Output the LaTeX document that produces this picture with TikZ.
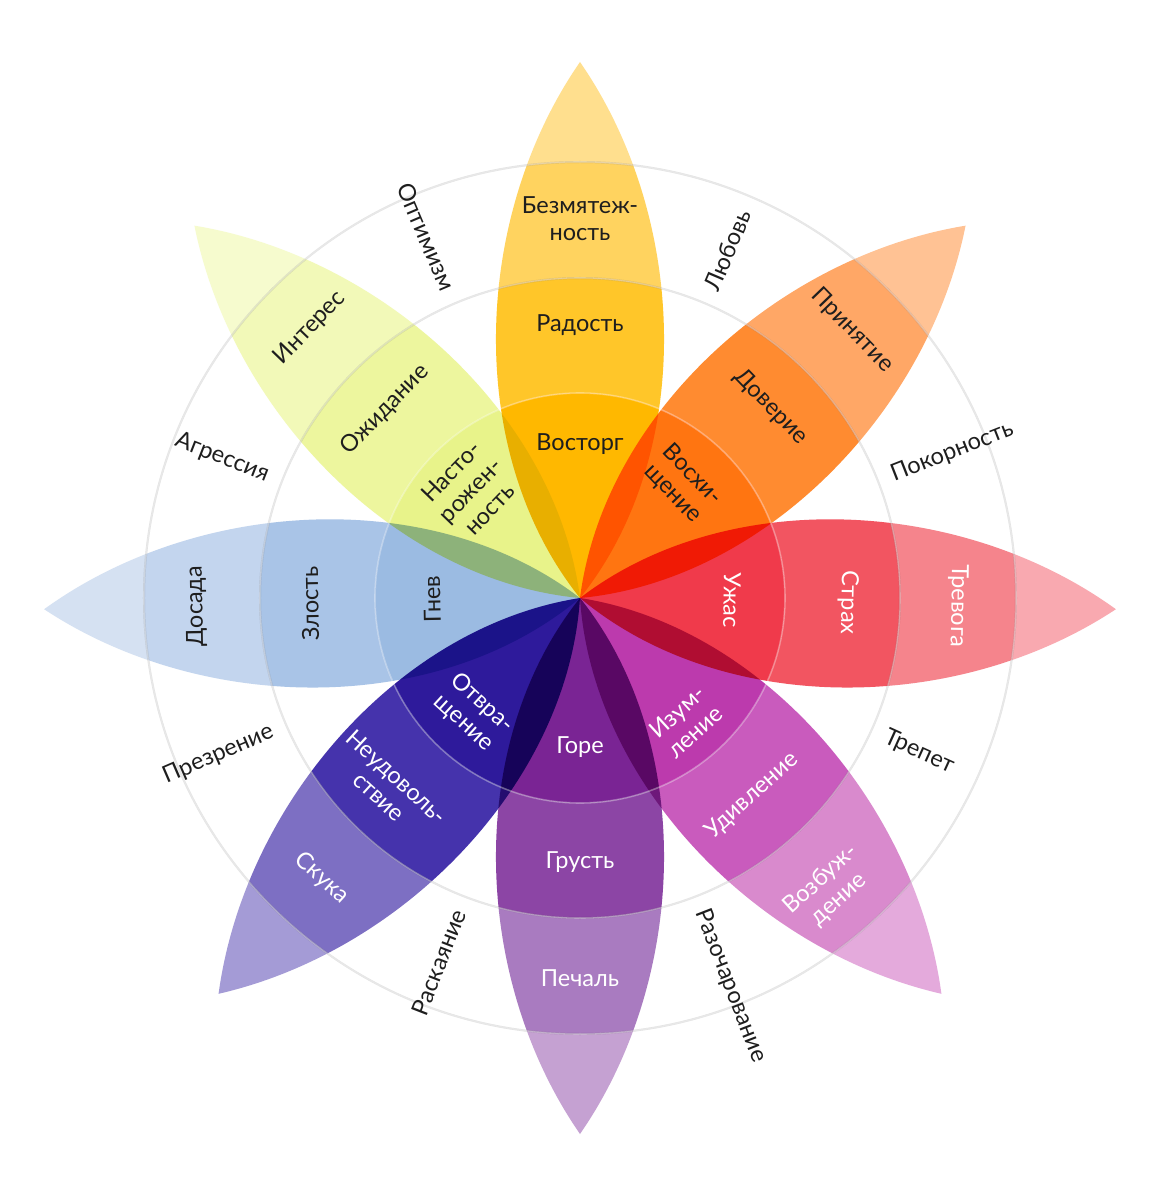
\documentclass[tikz,border=0pt]{standalone}
\usepackage{fontspec}
\setmainfont{Lato}
\definecolor{colYa}{HTML}{FFB800}\definecolor{colYb}{HTML}{FFC629}\definecolor{colYc}{HTML}{FFD35F}\definecolor{colYd}{HTML}{FFDF8E}
\definecolor{colOa}{HTML}{FF7511}\definecolor{colOb}{HTML}{FF8B30}\definecolor{colOc}{HTML}{FFA766}\definecolor{colOd}{HTML}{FFC294}
\definecolor{colRa}{HTML}{F03A4B}\definecolor{colRb}{HTML}{F25561}\definecolor{colRc}{HTML}{F5848C}\definecolor{colRd}{HTML}{F9A9B0}
\definecolor{colMa}{HTML}{BC3AAD}\definecolor{colMb}{HTML}{C95BBD}\definecolor{colMc}{HTML}{D98ACD}\definecolor{colMd}{HTML}{E4AADC}
\definecolor{colPa}{HTML}{7A2494}\definecolor{colPb}{HTML}{8C45A5}\definecolor{colPc}{HTML}{A97BC0}\definecolor{colPd}{HTML}{C5A1D2}
\definecolor{colIa}{HTML}{2E1A9B}\definecolor{colIb}{HTML}{4533AC}\definecolor{colIc}{HTML}{7D6FC3}\definecolor{colId}{HTML}{A49BD6}
\definecolor{colBa}{HTML}{9BBBE2}\definecolor{colBb}{HTML}{A9C4E7}\definecolor{colBc}{HTML}{C3D5EE}\definecolor{colBd}{HTML}{D5E1F2}
\definecolor{colGa}{HTML}{E8F38A}\definecolor{colGb}{HTML}{EDF69E}\definecolor{colGc}{HTML}{F2F9B8}\definecolor{colGd}{HTML}{F6FBCE}
\definecolor{ink}{HTML}{1E1E1E}
\definecolor{ringgray}{HTML}{DDDDDD}
\newcommand\drawpetal[5]{%
  \begin{scope}[rotate=#1]
    \path[clip] (0,0) .. controls (145,116) and (380,108) .. (536,0)
                      .. controls (380,-108) and (145,-116) .. (0,0);
    \fill[fill=#5, blend mode=multiply, even odd rule] (0,0) circle (600) (0,0) circle (436);
    \fill[fill=#4, blend mode=multiply, even odd rule] (0,0) circle (436) (0,0) circle (320);
    \fill[fill=#3, blend mode=multiply, even odd rule] (0,0) circle (320) (0,0) circle (205);
    \fill[fill=#2, blend mode=multiply] (0,0) circle (205);
  \end{scope}}
\begin{document}
\begin{tikzpicture}[x=1pt,y=1pt,
  ptxt/.style={font=\fontsize{23.5}{27}\selectfont, align=center, inner sep=0pt},
  dark/.style={ptxt, text=ink},
  light/.style={ptxt, text=white},
  outl/.style={font=\fontsize{23.5}{27}\selectfont, inner sep=0pt, text=ink},
  ring/.style={draw=ringgray, line width=2pt},
  seam/.style={draw=white, opacity=0.35, line width=1.6pt}]
\fill[white] (-580,-604) rectangle (585,598);
\useasboundingbox (-580,-604) rectangle (585,598);
\coordinate (c) at (0,0);
\draw[ring] (c) circle (320) (c) circle (436);
\drawpetal{90}{colYa}{colYb}{colYc}{colYd}
\drawpetal{44}{colOa}{colOb}{colOc}{colOd}
\drawpetal{-1.2}{colRa}{colRb}{colRc}{colRd}
\drawpetal{-47.6}{colMa}{colMb}{colMc}{colMd}
\drawpetal{-90}{colPa}{colPb}{colPc}{colPd}
\drawpetal{-132.4}{colIa}{colIb}{colIc}{colId}
\drawpetal{181.2}{colBa}{colBb}{colBc}{colBd}
\drawpetal{136}{colGa}{colGb}{colGc}{colGd}
\draw[seam] (c) circle (205) (c) circle (320) (c) circle (436);
% top
\node[dark] (t1) at (90:154) {Восторг};
\node[dark] (t2) at (90:273) {Радость};
\node[dark] (t3) at (90:379) {Безмятеж-\\ность};
% top-right
\node[dark, rotate=-46] (tr1) at (48:153) {Восхи-\\щение};
\node[dark, rotate=-46] (tr2) at (45:270) {Доверие};
\node[dark, rotate=-46] (tr3) at (44.5:382) {Принятие};
% right
\node[light, rotate=-91] (r1) at (-0.8:152) {Ужас};
\node[light, rotate=-91] (r2) at (-1:268) {Страх};
\node[light, rotate=-91] (r3) at (-1.2:378) {Тревога};
% bottom-right
\node[light, rotate=42.4] (br1) at (-49.4:163) {Изум-\\ление};
\node[light, rotate=42.4] (br2) at (-48.9:262) {Удивление};
\node[light, rotate=42.4] (br3) at (-49.4:384) {Возбуж-\\дение};
% bottom
\node[light] (b1) at (-90:149) {Горе};
\node[light] (b2) at (-90:264) {Грусть};
\node[light] (b3) at (-90:380) {Печаль};
% bottom-left
\node[light, rotate=-42.4] (bl1) at (-133:157) {Отвра-\\щение};
\node[light, rotate=-42.4] (bl2) at (-135.5:269) {Неудоволь-\\ствие};
\node[light, rotate=-42.4] (bl3) at (-132.7:381) {Скука};
% left
\node[dark, rotate=91] (l1) at (180.5:148) {Гнев};
\node[dark, rotate=91] (l2) at (181.2:270) {Злость};
\node[dark, rotate=91] (l3) at (181.2:384) {Досада};
% top-left
\node[dark, rotate=46] (tl1) at (135.5:154) {Насто-\\рожен-\\ность};
\node[dark, rotate=46] (tl2) at (136:271) {Ожидание};
\node[dark, rotate=46] (tl3) at (135:382) {Интерес};
% outer labels
\node[outl, anchor=west, rotate=67] (o1) at (67:335) {Любовь};
\node[outl, anchor=west, rotate=21.4] (o2) at (21.4:335) {Покорность};
\node[outl, anchor=west, rotate=-24.4] (o3) at (-24.4:335) {Трепет};
\node[outl, anchor=west, rotate=-68.8] (o4) at (-68.8:335) {Разочарование};
\node[outl, anchor=east, rotate=68.8] (o5) at (-111.2:335) {Раскаяние};
\node[outl, anchor=east, rotate=23.4] (o6) at (-156.6:335) {Презрение};
\node[outl, anchor=east, rotate=-21.4] (o7) at (158.6:335) {Агрессия};
\node[outl, anchor=east, rotate=-67] (o8) at (113:335) {Оптимизм};
\end{tikzpicture}
\end{document}
